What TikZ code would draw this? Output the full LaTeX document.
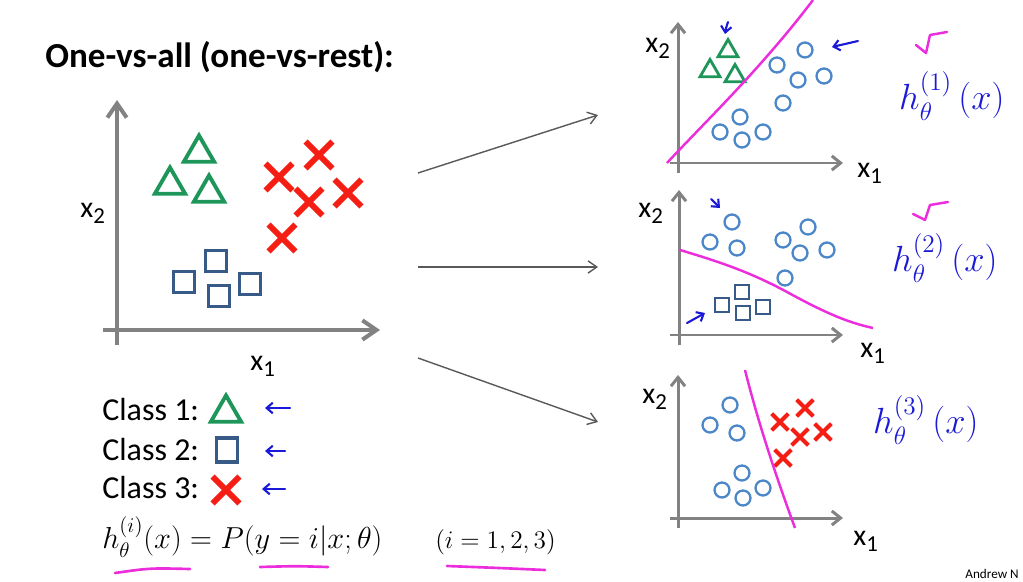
\documentclass[tikz,border=0pt]{standalone}
\usepackage{amsmath,amssymb}
\usepackage{xcolor}
\usepackage{fontspec}
\setmainfont{Carlito}
\usepackage{tikz}
\usetikzlibrary{shapes,arrows,positioning,calc,arrows.meta}

\definecolor{triGreen}{RGB}{30,150,90}
\definecolor{crossRed}{RGB}{245,30,20}
\definecolor{sqBlue}{RGB}{55,90,135}
\definecolor{circBlue}{RGB}{75,135,200}
\definecolor{axisGray}{RGB}{130,130,130}
\definecolor{penBlue}{RGB}{25,25,215}
\definecolor{penPink}{RGB}{235,45,220}

\newcommand{\axlab}[1]{x\raisebox{-0.45ex}{\fontsize{13}{13}\selectfont #1}}

\begin{document}
\begin{tikzpicture}[x=0.02cm, y=-0.02cm,
    bigaxis/.style={draw=axisGray, line width=2.3pt, -{Straight Barb[length=8pt,width=11pt]}},
    axis/.style={draw=axisGray, line width=1.7pt, -{Straight Barb[length=5pt,width=8pt]}},
    tri/.style={regular polygon, regular polygon sides=3, draw=triGreen, line width=2.2pt, inner sep=0pt, minimum size=0.7cm},
    smalltri/.style={tri, line width=1.6pt, minimum size=0.46cm},
    sq/.style={rectangle, draw=sqBlue, line width=2pt, inner sep=0pt, minimum size=0.42cm},
    smallsq/.style={sq, line width=1.4pt, minimum size=0.29cm},
    crs/.style={cross out, draw=crossRed, line width=3.4pt, inner sep=0pt, minimum size=0.42cm},
    smallcrs/.style={crs, line width=2.3pt, minimum size=0.25cm},
    circ/.style={circle, draw=circBlue, line width=1.3pt, inner sep=0pt, minimum size=0.3cm},
    link/.style={draw=black!65, line width=0.8pt, -{Straight Barb[length=5pt,width=7pt]}},
    pen/.style={draw=penBlue, line width=1.2pt, line cap=round, -{Straight Barb[length=3.5pt,width=6pt]}},
    tick/.style={draw=penPink, line width=1.4pt, line cap=round, line join=round},
    boundary/.style={draw=penPink, line width=1.4pt},
    underl/.style={draw=penPink, line width=1.5pt, line cap=round},
    txt/.style={anchor=base west, inner sep=0pt},
    lab/.style={txt, font=\fontsize{17}{18}\selectfont},
    hand/.style={anchor=west, text=penBlue, font=\fontsize{22}{24}\selectfont}]
    \useasboundingbox (0,0) rectangle (1023,581);

    % Title
    \node[txt, font=\fontsize{20}{22}\selectfont\bfseries] (title) at (45,68) {One-vs-all (one-vs-rest):};

    % Main plot
    \draw[bigaxis] (117,345) -- (117,100);
    \draw[bigaxis] (103,330) -- (380,330);
    \node[lab] (mx2) at (80,217) {\axlab{2}};
    \node[lab] (mx1) at (250,370) {\axlab{1}};
    \foreach \p [count=\k] in {(199,153),(170,185),(209,193)}
        \node[tri] (mt\k) at \p {};
    \foreach \p [count=\k] in {(319,155),(279,177),(309,202),(348,193),(282,238)}
        \node[crs] (mc\k) at \p {};
    \foreach \p [count=\k] in {(184,282),(216,261),(219,296),(250,284)}
        \node[sq] (ms\k) at \p {};

    % Arrows to the three classifiers
    \coordinate (src1) at (418,173); \coordinate (dst1) at (598,115);
    \coordinate (src2) at (418,267); \coordinate (dst2) at (598,267);
    \coordinate (src3) at (418,358); \coordinate (dst3) at (598,422);
    \draw[link] (src1) -- (dst1);
    \draw[link] (src2) -- (dst2);
    \draw[link] (src3) -- (dst3);

    % Classifier 1
    \draw[axis] (678,173) -- (678,22);
    \draw[axis] (670,163) -- (843,163);
    \node[lab] (ax2) at (645,52) {\axlab{2}};
    \node[lab] (ax1) at (857,177) {\axlab{1}};
    \foreach \p [count=\k] in {(728,51),(710,71),(735,76)}
        \node[smalltri] (at\k) at \p {};
    \foreach \p [count=\k] in {(805,50),(777,65),(798,80),(824,76),(783,103),(740,117),(720,132),(742,140),(763,132)}
        \node[circ] (ac\k) at \p {};
    \draw[boundary] (667,163) .. controls (700,127) and (760,70) .. (813,0);
    \draw[pen] (728,22) .. controls (726,28) .. (725,34);
    \draw[pen] (858,41) -- (832,47);
    \draw[tick] (947,32) -- (930,35) -- (926,53) -- (916,45);
    \node[hand] (h1) at (893,96) {$h_{\theta}^{(1)}\,(x)$};

    % Classifier 2
    \draw[axis] (679,345) -- (679,190);
    \draw[axis] (670,335) -- (843,335);
    \node[lab] (bx2) at (638,217) {\axlab{2}};
    \node[lab] (bx1) at (860,357) {\axlab{1}};
    \foreach \p [count=\k] in {(732,222),(710,242),(737,248),(783,240),(808,227),(800,253),(827,250),(785,278)}
        \node[circ] (bc\k) at \p {};
    \foreach \p [count=\k] in {(742,292),(722,305),(743,313),(763,307)}
        \node[smallsq] (bs\k) at \p {};
    \draw[boundary] (680,250) .. controls (720,262) and (750,272) .. (787,292)
        .. controls (820,310) and (845,322) .. (873,328);
    \draw[pen] (711,199) -- (720,208);
    \draw[pen] (687,323) -- (705,313);
    \draw[tick] (948,202) -- (930,205) -- (925,220) -- (913,214);
    \node[hand] (h2) at (886,258) {$h_{\theta}^{(2)}\,(x)$};

    % Classifier 3
    \draw[axis] (678,528) -- (678,375);
    \draw[axis] (670,518) -- (843,518);
    \node[lab] (cx2) at (642,403) {\axlab{2}};
    \node[lab] (cx1) at (853,545) {\axlab{1}};
    \foreach \p [count=\k] in {(730,405),(710,425),(737,433),(742,473),(722,490),(743,498),(763,488)}
        \node[circ] (cc\k) at \p {};
    \foreach \p [count=\k] in {(805,408),(780,422),(800,437),(823,432),(783,458)}
        \node[smallcrs] (cx\k) at \p {};
    \draw[boundary] (745,370) .. controls (755,410) and (770,460) .. (795,528);
    \node[hand] (h3) at (867,420) {$h_{\theta}^{(3)}\,(x)$};

    % Legend
    \node[txt, font=\fontsize{18.2}{20}\selectfont] (cl1) at (102,420) {Class 1:};
    \node[txt, font=\fontsize{18.2}{20}\selectfont] (cl2) at (102,460) {Class 2:};
    \node[txt, font=\fontsize{18.2}{20}\selectfont] (cl3) at (102,498) {Class 3:};
    \node[tri] (lt) at (226,413) {};
    \node[sq, minimum width=0.42cm, minimum height=0.48cm] (ls) at (227,450) {};
    \node[crs] (lc) at (226,490) {};
    \coordinate (la1) at (290,408); \coordinate (lb1) at (265,408);
    \coordinate (la2) at (285,451); \coordinate (lb2) at (265,451);
    \coordinate (la3) at (285,489); \coordinate (lb3) at (262,489);
    \draw[pen] (la1) -- (lb1);
    \draw[pen] (la2) -- (lb2);
    \draw[pen] (la3) -- (lb3);

    % Hypothesis
    \node[txt, font=\fontsize{17.8}{20}\selectfont] (hyp) at (102,548) {$h_\theta^{(i)}(x) = P(y=i|x;\theta)$};
    \node[txt, font=\fontsize{15}{17}\selectfont] (rng) at (435,548) {$(i=1,2,3)$};
    \draw[underl] (115,573) .. controls (150,568) .. (190,569);
    \draw[underl] (260,567) .. controls (295,566) .. (328,567);
    \draw[underl] (447,566) .. controls (500,568) .. (545,570);

    \node[txt, font=\fontsize{7.5}{8}\selectfont] (credit) at (965,578) {Andrew N};
\end{tikzpicture}
\end{document}
